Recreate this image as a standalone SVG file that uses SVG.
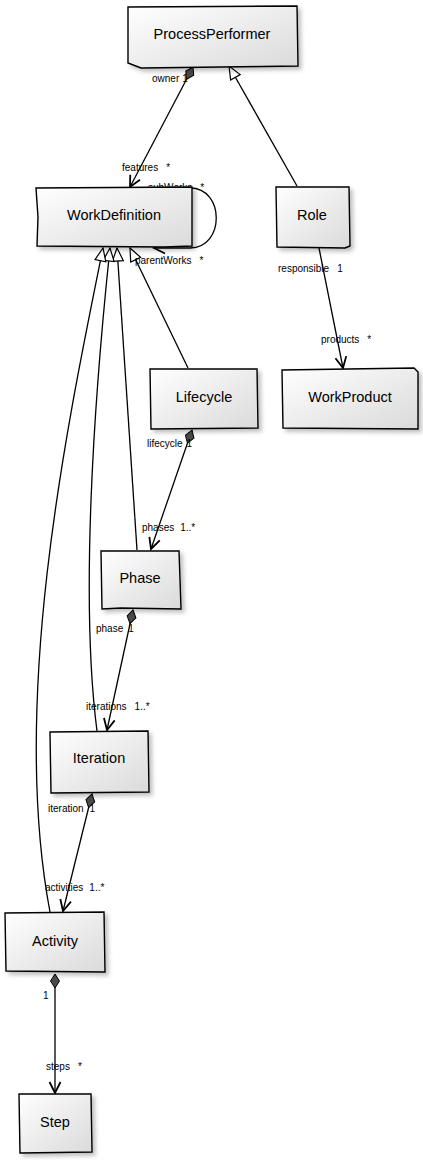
<svg xmlns="http://www.w3.org/2000/svg" width="423" height="1160" viewBox="0 0 423 1160">
<defs>
<linearGradient id="fill" x1="0" y1="0" x2="1" y2="1">
<stop offset="0" stop-color="#ffffff"/>
<stop offset="1" stop-color="#dadada"/>
</linearGradient>
<filter id="shadow" x="-10%" y="-10%" width="130%" height="140%">
<feDropShadow dx="3" dy="3" stdDeviation="2" flood-color="#000" flood-opacity="0.25"/>
</filter>
<marker id="arrow" viewBox="-14 -8 16 16" refX="0" refY="0" markerWidth="16" markerHeight="16" markerUnits="userSpaceOnUse" orient="auto" overflow="visible">
<path d="M-11,-5.5 L0,0 L-11,5.5" fill="none" stroke="#000" stroke-width="1.8" stroke-linejoin="miter"/>
</marker>
<marker id="diamond" viewBox="-2 -6 18 12" refX="0" refY="0" markerWidth="18" markerHeight="12" markerUnits="userSpaceOnUse" orient="auto" overflow="visible">
<path d="M0,0 L7,-4.5 L14,0 L7,4.5 Z" fill="#4a4a4a" stroke="#000" stroke-width="1"/>
</marker>
<marker id="tri" viewBox="-15 -8 17 16" refX="0" refY="0" markerWidth="17" markerHeight="16" markerUnits="userSpaceOnUse" orient="auto" overflow="visible">
<path d="M0,0 L-13,-5.5 L-13,5.5 Z" fill="#fff" stroke="#000" stroke-width="1.2"/>
</marker>
</defs>
<style>
.box{fill:url(#fill);stroke:#000;stroke-width:1.4;filter:url(#shadow)}
.name{font-family:"Liberation Sans",Arial,sans-serif;font-size:14.5px;fill:#000;text-anchor:middle}
.lbl{font-family:"Liberation Sans",Arial,sans-serif;font-size:10px;fill:#000}
.c{fill:none;stroke:#000;stroke-width:1.3}
.comp{marker-start:url(#diamond);marker-end:url(#arrow)}
.nav{marker-end:url(#arrow)}
.gen{marker-end:url(#tri)}
</style>

<g id="connectors">
<path class="c comp" d="M193,67 L130,187"/>
<path class="c gen" d="M297,186 L229,66"/>
<path class="c nav" d="M165,188 L190,188 C225,188 225,248 190,248 L154,248"/>
<path class="c nav" d="M319,248 L343,368"/>
<path class="c gen" d="M188,368 L130,248"/>
<path class="c comp" d="M192,430 L151,549"/>
<path class="c gen" d="M137,550 L117,248"/>
<path class="c comp" d="M133,610 L107,730"/>
<path class="c gen" d="M97,731 C80,600 94,400 110,248"/>
<path class="c comp" d="M92,794 L63,911"/>
<path class="c gen" d="M50,912 C10,700 66,430 103,248"/>
<path class="c comp" d="M55,974 L55,1093"/>

<text class="lbl" x="152" y="82">owner<tspan dx="3">1</tspan></text>
<text class="lbl" x="122" y="171">features<tspan dx="8">*</tspan></text>
<text class="lbl" x="148" y="191">subWorks<tspan dx="8">*</tspan></text>
<text class="lbl" x="135" y="264">parentWorks<tspan dx="8">*</tspan></text>
<text class="lbl" x="278" y="272">responsible<tspan dx="8">1</tspan></text>
<text class="lbl" x="321" y="343">products<tspan dx="8">*</tspan></text>
<text class="lbl" x="147" y="447">lifecycle<tspan dx="4">1</tspan></text>
<text class="lbl" x="142" y="531">phases<tspan dx="6">1..*</tspan></text>
<text class="lbl" x="96" y="632">phase<tspan dx="5">1</tspan></text>
<text class="lbl" x="86" y="710">iterations<tspan dx="8">1..*</tspan></text>
<text class="lbl" x="48" y="812">iteration<tspan dx="6">1</tspan></text>
<text class="lbl" x="45" y="891">activities<tspan dx="6">1..*</tspan></text>
<text class="lbl" x="43" y="999">1</text>
<text class="lbl" x="46" y="1070">steps<tspan dx="8">*</tspan></text>
</g>

<g id="ProcessPerformer">
<path class="box" d="M128,7 L297,6 L298,66 L141,68 L128,63 Z"/>
<text class="name" x="212" y="39">ProcessPerformer</text>
</g>
<g id="WorkDefinition">
<path class="box" d="M36,188 L192,187 L192,246 L164,247 L37,246 L38,217 Z"/>
<text class="name" x="114" y="220">WorkDefinition</text>
</g>
<g id="Role">
<path class="box" d="M276,187 L349,187 L350,246 L345,248 L277,247 Z"/>
<text class="name" x="312" y="220">Role</text>
</g>
<g id="Lifecycle">
<path class="box" d="M150,369 L257,369 L258,428 L151,429 Z"/>
<text class="name" x="204" y="402">Lifecycle</text>
</g>
<g id="WorkProduct">
<path class="box" d="M282,370 L414,368 L418,372 L418,429 L283,428 Z"/>
<text class="name" x="350" y="402">WorkProduct</text>
</g>
<g id="Phase">
<path class="box" d="M101,551 L179,551 L181,609 L121,608 L102,609 Z"/>
<text class="name" x="140" y="583">Phase</text>
</g>
<g id="Iteration">
<path class="box" d="M50,732 L148,731 L149,792 L51,793 Z"/>
<text class="name" x="99" y="763">Iteration</text>
</g>
<g id="Activity">
<path class="box" d="M5,913 L104,912 L105,972 L6,971 Z"/>
<text class="name" x="55" y="946">Activity</text>
</g>
<g id="Step">
<path class="box" d="M19,1094 L91,1094 L92,1152 L20,1153 Z"/>
<text class="name" x="55" y="1127">Step</text>
</g>
</svg>
